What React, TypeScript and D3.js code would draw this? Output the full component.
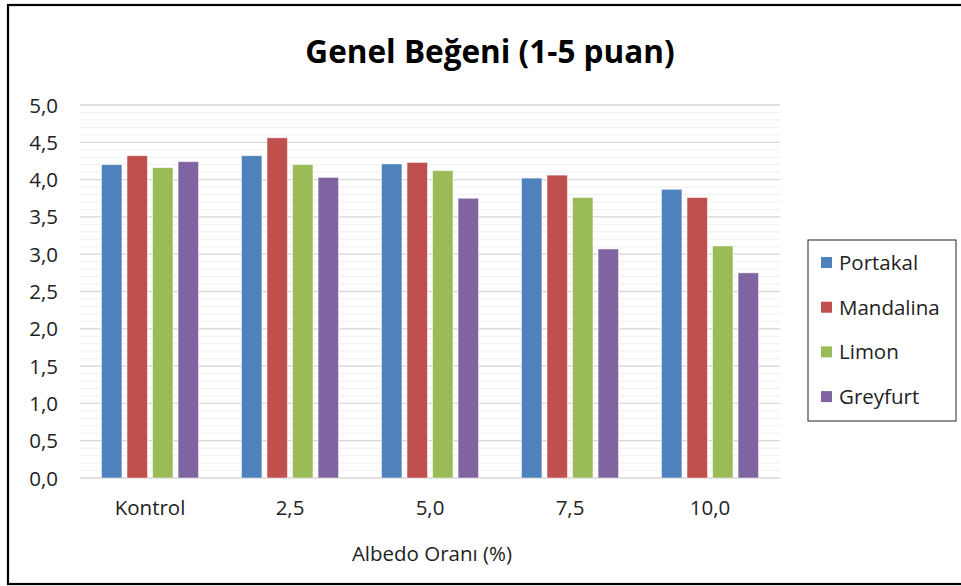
import React from "react";
import * as d3 from "d3";

const categories = ["Kontrol", "2,5", "5,0", "7,5", "10,0"];
const seriesNames = ["Portakal", "Mandalina", "Limon", "Greyfurt"];
const portakal = [4.2, 4.32, 4.21, 4.02, 3.87];
const mandalina = [4.32, 4.56, 4.23, 4.06, 3.76];
const limon = [4.16, 4.2, 4.12, 3.76, 3.11];
const greyfurt = [4.24, 4.03, 3.75, 3.07, 2.75];
const yTicks = [0, 0.5, 1, 1.5, 2, 2.5, 3, 3.5, 4, 4.5, 5];
const colors = ["#4F81BD", "#C0504D", "#9BBB59", "#8064A2"];

const FONT = "'Open Sans', 'Noto Sans', sans-serif";
const FS = 20.5;

export default function App() {
  const W = 961, H = 586;
  const left = 80, right = 780, top = 105, bottom = 478;
  const series = [portakal, mandalina, limon, greyfurt];
  const x = d3.scaleBand<string>().domain(categories).range([left, right]).paddingInner(0).paddingOuter(0);
  const y = d3.scaleLinear().domain([0, 5]).range([bottom, top]);
  const inner = d3.scaleBand<number>().domain([0, 1, 2, 3]).range([0, 97]).paddingInner(0.2);
  const minor = d3.range(0, 51).map((i) => i / 10);
  const fmt = (v: number) => v.toFixed(1).replace(".", ",");

  return (
    <svg width={W} height={H} style={{ position: "absolute", left: 0, top: 0 }} fontFamily={FONT}>
      <rect x={0} y={0} width={W} height={H} fill="#fff" />
      <rect x={8} y={5} width={W + 10} height={579} fill="none" stroke="#000" strokeWidth={2.2} />
      <text x={490} y={63} textAnchor="middle" fontSize={31.5} fontWeight="bold" fill="#000">
        Genel Beğeni (1-5 puan)
      </text>
      {minor.map((v, i) => (
        <line key={"m" + i} x1={left} x2={right} y1={y(v)} y2={y(v)} stroke="#f0f0f0" strokeWidth={1} />
      ))}
      {yTicks.map((v, i) => (
        <line key={"g" + i} x1={left} x2={right} y1={y(v)} y2={y(v)} stroke="#d9d9d9" strokeWidth={1.3} />
      ))}
      {yTicks.map((v, i) => (
        <text key={"t" + i} x={58} y={y(v) + 7.5} textAnchor="end" fontSize={FS} fill="#222">
          {fmt(v)}
        </text>
      ))}
      {categories.map((c, ci) => {
        const gx = (x(c) as number) + x.bandwidth() / 2 - 48.5;
        return (
          <g key={c}>
            {series.map((s, si) => (
              <rect
                key={si}
                x={gx + (inner(si) as number)}
                y={y(s[ci])}
                width={inner.bandwidth()}
                height={bottom - y(s[ci])}
                fill={colors[si]}
                stroke="#ffffff"
                strokeOpacity={0.6}
                strokeWidth={0.8}
              />
            ))}
            <text x={(x(c) as number) + x.bandwidth() / 2} y={515} textAnchor="middle" fontSize={FS} fill="#222">
              {c}
            </text>
          </g>
        );
      })}
      <text x={432} y={561} textAnchor="middle" fontSize={FS} fill="#222">
        Albedo Oranı (%)
      </text>
      <rect x={808} y={240} width={148} height={181} fill="#fff" stroke="#222" strokeWidth={1} />
      {seriesNames.map((n, i) => (
        <g key={n}>
          <rect x={821} y={257 + i * 44.7} width={11} height={11} fill={colors[i]} />
          <text x={839} y={270 + i * 44.7} fontSize={FS} fill="#222">
            {n}
          </text>
        </g>
      ))}
    </svg>
  );
}
